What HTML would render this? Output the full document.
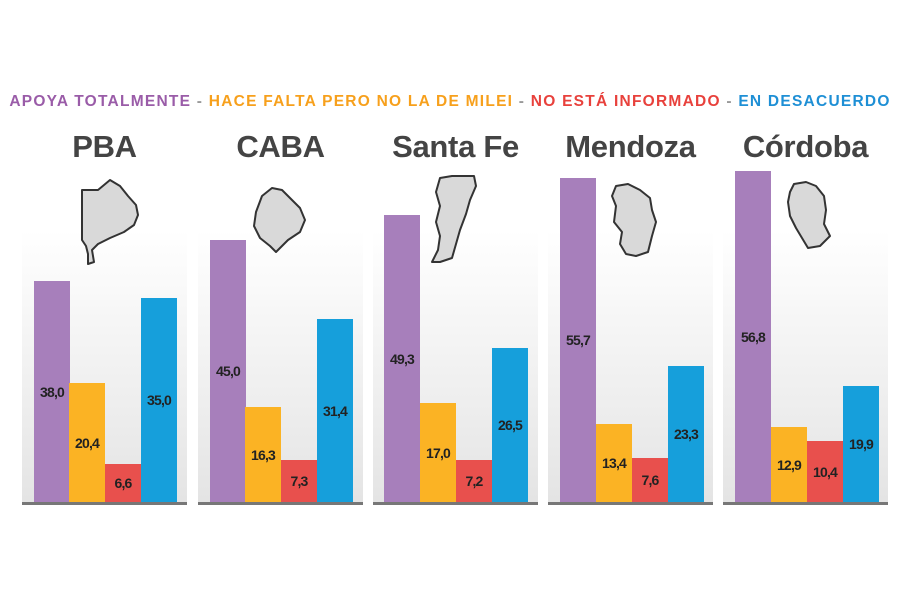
<!DOCTYPE html><html><head><style>
body{margin:0;width:900px;height:600px;background:#fff;font-family:"Liberation Sans",sans-serif;position:relative;overflow:hidden}
.leg{position:absolute;top:93px;left:0;width:900px;text-align:center;font-weight:bold;font-size:15.5px;letter-spacing:1.25px;white-space:nowrap}
.p{position:absolute;top:230px;width:165px;height:272px;background:linear-gradient(#fff,#e4e4e4);border-bottom:3px solid #777}
.t{position:absolute;top:129px;width:165px;text-align:center;font-weight:bold;font-size:31px;color:#444;letter-spacing:-0.3px}
.b{position:absolute;width:36px;bottom:0;display:flex;align-items:center;justify-content:center;font-size:14px;font-weight:bold;color:#222;letter-spacing:-0.8px}
.pu{background:#a77fbb}.ye{background:#fbb324}.re{background:#e8504d}.bl{background:#169fdb}
svg{position:absolute}
</style></head><body>
<div class="leg"><span style="color:#9a5ca8">APOYA TOTALMENTE</span> <span style="color:#999">-</span> <span style="color:#f7a01c">HACE FALTA PERO NO LA DE MILEI</span> <span style="color:#999">-</span> <span style="color:#e8413c">NO ESTÁ INFORMADO</span> <span style="color:#999">-</span> <span style="color:#1e8fd5">EN DESACUERDO</span></div>

<div class="t" style="left:22px">PBA</div>
<div class="t" style="left:198px">CABA</div>
<div class="t" style="left:373px">Santa Fe</div>
<div class="t" style="left:548px">Mendoza</div>
<div class="t" style="left:723px">Córdoba</div>

<div class="p" style="left:22px">
<div class="b pu" style="left:12px;height:221px">38,0</div><div class="b ye" style="left:47px;height:119px">20,4</div><div class="b re" style="left:83px;height:38px">6,6</div><div class="b bl" style="left:119px;height:204px">35,0</div></div>
<div class="p" style="left:198px">
<div class="b pu" style="left:12px;height:262px">45,0</div><div class="b ye" style="left:47px;height:95px">16,3</div><div class="b re" style="left:83px;height:42px">7,3</div><div class="b bl" style="left:119px;height:183px">31,4</div></div>
<div class="p" style="left:373px">
<div class="b pu" style="left:11px;height:287px">49,3</div><div class="b ye" style="left:47px;height:99px">17,0</div><div class="b re" style="left:83px;height:42px">7,2</div><div class="b bl" style="left:119px;height:154px">26,5</div></div>
<div class="p" style="left:548px">
<div class="b pu" style="left:12px;height:324px">55,7</div><div class="b ye" style="left:48px;height:78px">13,4</div><div class="b re" style="left:84px;height:44px">7,6</div><div class="b bl" style="left:120px;height:136px">23,3</div></div>
<div class="p" style="left:723px">
<div class="b pu" style="left:12px;height:331px">56,8</div><div class="b ye" style="left:48px;height:75px">12,9</div><div class="b re" style="left:84px;height:61px">10,4</div><div class="b bl" style="left:120px;height:116px">19,9</div></div>

<svg width="900" height="600" style="left:0;top:0">
<g fill="#d9d9d9" stroke="#333" stroke-width="2" stroke-linejoin="round">
<path d="M82,190 L98,190 L110,180 L120,186 L128,196 L136,205 L138,215 L134,225 L124,232 L110,238 L98,244 L92,250 L94,262 L88,264 L88,254 L86,246 L82,240 Z"/>
<path d="M262,196 L272,188 L282,190 L290,198 L300,208 L305,220 L300,232 L288,240 L276,252 L270,246 L260,238 L254,226 L256,212 Z"/>
<path d="M440,178 L452,176 L474,176 L476,186 L470,200 L466,214 L460,230 L456,244 L452,258 L440,262 L432,262 L438,250 L440,236 L436,222 L440,206 L436,192 Z"/>
<path d="M616,186 L628,184 L640,190 L650,198 L652,210 L656,222 L652,236 L648,252 L636,256 L626,254 L620,244 L622,232 L614,222 L616,206 L612,196 Z"/>
<path d="M794,184 L806,182 L816,186 L824,196 L826,210 L824,224 L830,236 L820,246 L808,248 L802,238 L796,228 L790,216 L788,202 L790,192 Z"/>
</g></svg>
</body></html>
